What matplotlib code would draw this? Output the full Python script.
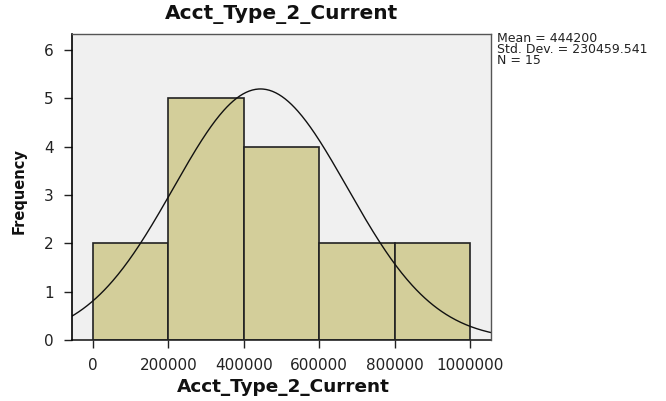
import numpy as np
import matplotlib
matplotlib.use("Agg")
import matplotlib.pyplot as plt

bin_edges = [0, 200000, 400000, 600000, 800000, 1000000]
counts = [2, 5, 4, 2, 2]
mean = 444200
std = 230459.541
n = 15
x_ticks = [0, 200000, 400000, 600000, 800000, 1000000]
y_ticks = [0, 1, 2, 3, 4, 5, 6]
title = "Acct_Type_2_Current"
stats_lines = ["Mean = 444200", "Std. Dev. = 230459.541", "N = 15"]

plt.rcParams['font.family'] = ['DejaVu Sans']

fig = plt.figure(figsize=(6.66, 4.01), dpi=100)
W, H = 666, 401
ax = fig.add_axes([72 / W, 1 - 340 / H, (491 - 72) / W, (340 - 34) / H])
ax.set_facecolor('#F0F0F0')

widths = np.diff(bin_edges)
ax.bar(bin_edges[:-1], counts, width=widths, align='edge',
       color='#D3CE9A', edgecolor='#222222', linewidth=1.2)

xs = np.linspace(-60000, 1060000, 400)
bw = bin_edges[1] - bin_edges[0]
ys = n * bw / (std * np.sqrt(2 * np.pi)) * np.exp(-0.5 * ((xs - mean) / std) ** 2)
ax.plot(xs, ys, color='#111111', linewidth=1.0)

ax.set_xlim(-55700, 1055700)
ax.set_ylim(0, 6.33)
ax.set_xticks(x_ticks)
ax.set_xticklabels([str(v) for v in x_ticks])
ax.set_yticks(y_ticks)
for s in ['top', 'right']:
    ax.spines[s].set_color('#555555')
    ax.spines[s].set_linewidth(1.0)
ax.spines['left'].set_linewidth(1.2)
ax.spines['bottom'].set_visible(False)
ax.axhline(0, color='#222222', linewidth=1.2, clip_on=False)
ax.tick_params(axis='both', length=6, width=1.0, color='#222222',
               labelsize=11, labelcolor='#222222')
ax.tick_params(axis='y', pad=7)
ax.tick_params(axis='x', pad=7)

fig.text(282 / W, 1 - 14 / H, title, ha='center', va='center',
         fontsize=14.5, fontweight='bold', color='#111111')
fig.text(283 / W, 1 - 387 / H, title, ha='center', va='center',
         fontsize=13.3, fontweight='bold', color='#111111')
fig.text(19 / W, 1 - 191 / H, "Frequency", ha='center', va='center',
         rotation=90, fontsize=10.5, fontweight='bold', color='#111111')
fig.text(497 / W, 1 - 32 / H, "\n".join(stats_lines),
         ha='left', va='top', fontsize=9, color='#222222', linespacing=0.8)

fig.savefig("out.png", dpi=100)
